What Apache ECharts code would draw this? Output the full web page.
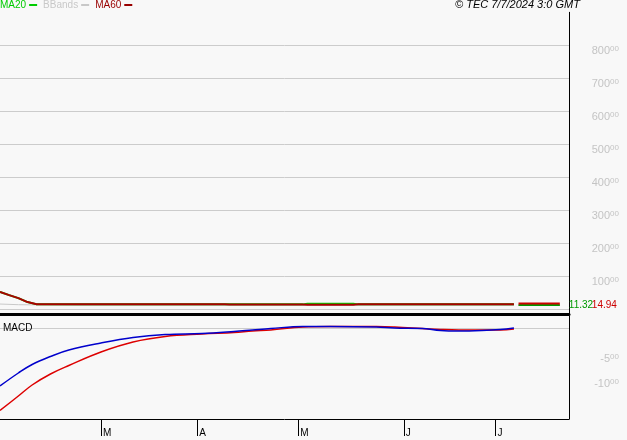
<!DOCTYPE html>
<html>
<head>
<meta charset="utf-8">
<script src="https://cdn.jsdelivr.net/npm/echarts@6/dist/echarts.min.js"></script>
<style>
html,body{margin:0;padding:0;background:#f8f8f8;}
#c{width:627px;height:440px;}
</style>
</head>
<body>
<div id="c"></div>
<script>
// ---- data (x = trading-day index) ----
const xTickIdx = [22, 43, 65, 88, 108];
const xTickLabels = ['M', 'A', 'M', 'J', 'J'];
const priceTicks = [100, 200, 300, 400, 500, 600, 700, 800];
const macdTicks = [-5, -10];

const ma60Idx = [0, 2, 4, 6, 8, 17, 49, 50, 66, 67, 77, 78, 91, 92, 112];
const ma60Val = [52, 42, 33, 21, 14.5, 14.5, 14.5, 13.5, 13.5, 12.5, 12.5, 14.5, 14.5, 14, 14.5];

const ma20Idx = [0, 2, 4, 6, 8, 66, 67, 77, 78, 112];
const ma20Val = [52, 42, 33, 21, 14, 14, 16, 16, 14, 14];

const bbIdx = [0, 4, 17, 112];
const bbVal = [15, 13, 11, 11];

const lastIdx = [113, 122];
const lastMA20 = 11.32;
const lastMA60 = 14.94;

const macdIdx = [0, 4, 7, 11, 15, 22, 29, 36, 44, 51, 55, 59, 66, 72, 82, 86, 92, 96, 100, 105, 109, 112];
const macdVal = [-11.6, -9, -7.3, -5.7, -4.4, -3, -1.9, -1.3, -1.1, -0.7, -0.4, -0.1, 0.3, 0.3, 0.2, 0, -0.1, -0.5, -0.6, -0.5, -0.3, 0];
const signalVal = [-16.5, -13.6, -11.4, -9.2, -7.5, -4.8, -2.8, -1.7, -1.2, -0.9, -0.6, -0.4, 0.2, 0.3, 0.3, 0.2, -0.1, -0.3, -0.4, -0.4, -0.4, -0.2];

const pairs = (xs, ys) => xs.map((x, i) => [x, ys[i]]);
const FONT = 'Liberation Sans';

const chart = echarts.init(document.getElementById('c'), null, {renderer: 'canvas'});
const supLabel = v => '{a|' + String(v) + '}{b|00}';
const richSup = {
  a: {fontSize: 11, fontFamily: FONT, color: '#c4c4c4', lineHeight: 12},
  b: {fontSize: 8, fontFamily: FONT, color: '#c4c4c4', lineHeight: 8, verticalAlign: 'top'}
};
const isTick = (list, v) => Math.abs(v - Math.round(v)) < 1e-6 && list.indexOf(Math.round(v)) >= 0;

chart.setOption({
  animation: false,
  backgroundColor: '#f8f8f8',
  textStyle: {fontFamily: FONT},
  title: [
    {text: '© TEC 7/7/2024 3:0 GMT', left: 455, top: -1, padding: 0,
     textStyle: {fontSize: 11, fontStyle: 'italic', fontWeight: 'normal', color: '#000', fontFamily: FONT}},
    {text: 'MACD', left: 3, top: 323, padding: 0,
     textStyle: {fontSize: 10, fontWeight: 'normal', color: '#000', fontFamily: FONT}}
  ],
  legend: {
    left: 0, top: 0, padding: 0, itemGap: 6, align: 'right',
    icon: 'rect', itemWidth: 8, itemHeight: 2,
    selectedMode: false,
    textStyle: {fontSize: 10, fontFamily: FONT, padding: [0, -2, 0, 0]},
    data: [
      {name: 'MA20', textStyle: {color: '#00cc00'}},
      {name: 'BBands', textStyle: {color: '#c8c8c8'}},
      {name: 'MA60', textStyle: {color: '#990000'}}
    ]
  },
  grid: [
    {left: 0, right: 58, top: 12.3, bottom: 125.5},
    {left: 0, right: 58, top: 316, bottom: 21}
  ],
  xAxis: [
    {type: 'value', gridIndex: 0, min: 0, max: 124,
     axisLine: {show: true, onZero: false, lineStyle: {color: '#000', width: 3}},
     axisTick: {show: false}, axisLabel: {show: false}, splitLine: {show: false}},
    {type: 'value', gridIndex: 1, min: 0, max: 124,
     axisLine: {show: true, onZero: false, lineStyle: {color: '#000', width: 1}},
     axisTick: {show: true, length: 17, lineStyle: {color: '#000'}, customValues: xTickIdx},
     axisLabel: {show: true, customValues: xTickIdx, align: 'left', margin: 9, padding: [0, 0, 0, 2],
       fontSize: 10, color: '#000', fontFamily: FONT,
       formatter: v => { const i = xTickIdx.indexOf(Math.round(v)); return i >= 0 ? xTickLabels[i] : ''; }},
     splitLine: {show: false}}
  ],
  yAxis: [
    {type: 'value', gridIndex: 0, position: 'right', min: -16.7, max: 899, splitNumber: 10,
     axisLine: {show: true, onZero: false, lineStyle: {color: '#000', width: 1}},
     axisTick: {show: false},
     splitLine: {show: true, showMinLine: false, showMaxLine: false, lineStyle: {color: '#cccccc', width: 1}},
     axisLabel: {show: true, align: 'right', margin: 50, verticalAlign: 'top',
       formatter: v => isTick(priceTicks, v) ? supLabel(v) : '', rich: richSup}},
    {type: 'value', gridIndex: 1, position: 'right', min: -18.2, max: 2.4, splitNumber: 4,
     axisLine: {show: true, onZero: false, lineStyle: {color: '#000', width: 1}},
     axisTick: {show: false},
     splitLine: {show: false},
     axisLabel: {show: true, align: 'right', margin: 50, verticalAlign: 'top',
       formatter: v => isTick(macdTicks, v) ? supLabel(v) : '', rich: richSup}}
  ],
  series: [
    {name: 'BBands', type: 'line', xAxisIndex: 0, yAxisIndex: 0, data: pairs(bbIdx, bbVal),
     symbol: 'none', color: '#c8c8c8', lineStyle: {color: '#c8c8c8', width: 1}, z: 2},
    {name: 'MA20', type: 'line', xAxisIndex: 0, yAxisIndex: 0, data: pairs(ma20Idx, ma20Val),
     symbol: 'none', color: '#00cc00', lineStyle: {color: '#00cc00', width: 2}, z: 3},
    {name: 'MA60', type: 'line', xAxisIndex: 0, yAxisIndex: 0, data: pairs(ma60Idx, ma60Val),
     symbol: 'none', color: '#990000', lineStyle: {color: '#aa0000', width: 2}, z: 4},
    {name: 'lastMA60', type: 'line', xAxisIndex: 0, yAxisIndex: 0,
     data: lastIdx.map(x => [x, lastMA60]), symbol: 'none', lineStyle: {color: '#cc0000', width: 3}, z: 5,
     endLabel: {show: true, formatter: p => lastMA60.toFixed(2), color: '#cc0000', fontSize: 10, distance: 32, offset: [0, 1], fontFamily: FONT}},
    {name: 'lastMA20', type: 'line', xAxisIndex: 0, yAxisIndex: 0,
     data: lastIdx.map(x => [x, lastMA20]), symbol: 'none', lineStyle: {color: '#009900', width: 1.5}, z: 6,
     endLabel: {show: true, formatter: p => lastMA20.toFixed(2), color: '#009900', fontSize: 10, distance: 9, offset: [0, -0.5], fontFamily: FONT}},
    {name: 'MACD', type: 'line', xAxisIndex: 1, yAxisIndex: 1, data: pairs(macdIdx, macdVal),
     symbol: 'none', smooth: 0.4, lineStyle: {color: '#0000cc', width: 1.5}, z: 4,
     markLine: {silent: true, symbol: 'none', label: {show: false},
       lineStyle: {color: '#cccccc', width: 1, type: 'solid'}, data: [{yAxis: 0}], z: 1}},
    {name: 'Signal', type: 'line', xAxisIndex: 1, yAxisIndex: 1, data: pairs(macdIdx, signalVal),
     symbol: 'none', smooth: 0.4, lineStyle: {color: '#dd0000', width: 1.5}, z: 3}
  ]
});
</script>
</body>
</html>
